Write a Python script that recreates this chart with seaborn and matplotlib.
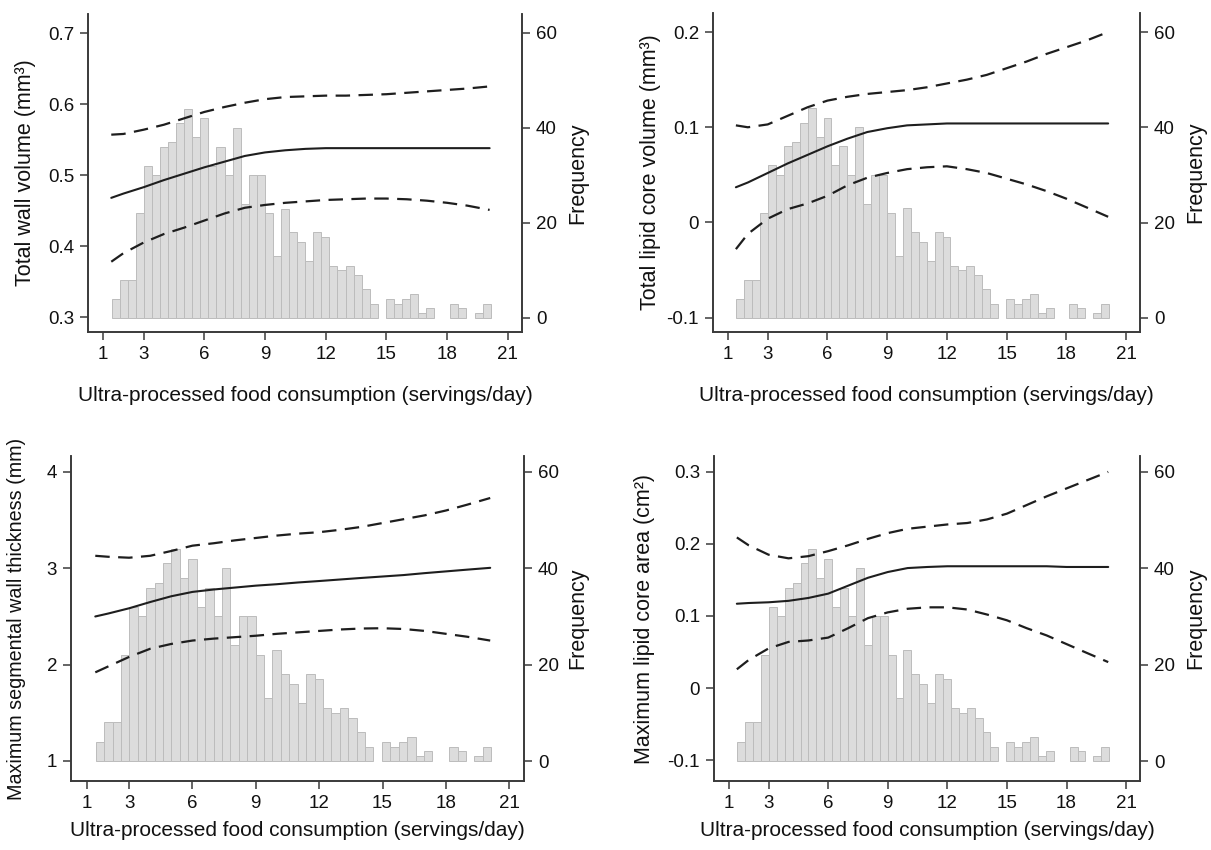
"""Ultra-processed food consumption vs carotid plaque measures (4 panels)"""

import matplotlib
matplotlib.use("Agg")
import matplotlib.pyplot as plt
import numpy as np
import pandas as pd
import seaborn as sns

sns.set_style("ticks")
plt.rcParams["font.family"] = ["Liberation Sans", "DejaVu Sans"]

W, H = 1211, 850

# histogram of servings/day (same sample in every panel)
HIST_LO, HIST_HI, N_BINS = 1.42, 20.15, 47
HIST_COUNTS = [4, 8, 8, 22, 32, 30, 36, 37, 41, 44, 38, 42, 32, 36, 30, 40,
               24, 30, 30, 22, 13, 23, 18, 16, 12, 18, 17, 11, 10, 11, 9, 6,
               3, 0, 4, 3, 4, 5, 1, 2, 0, 0, 3, 2, 0, 1, 3]

# x positions where the fitted curves were read
CURVE_X = [1.4, 2, 3, 4, 5, 6, 7, 8, 9, 10, 11, 12, 13, 14, 15, 16, 17, 18, 19, 20.1]

WALL_EST = [0.468, 0.474, 0.483, 0.493, 0.502, 0.511, 0.519, 0.527, 0.532, 0.535,
            0.537, 0.538, 0.538, 0.538, 0.538, 0.538, 0.538, 0.538, 0.538, 0.538]
WALL_HI = [0.557, 0.558, 0.564, 0.571, 0.580, 0.589, 0.596, 0.602, 0.607, 0.610,
           0.611, 0.612, 0.612, 0.613, 0.614, 0.616, 0.618, 0.620, 0.622, 0.625]
WALL_LO = [0.378, 0.390, 0.405, 0.417, 0.426, 0.436, 0.446, 0.454, 0.458, 0.461,
           0.463, 0.465, 0.466, 0.467, 0.467, 0.466, 0.464, 0.461, 0.457, 0.451]

LIPVOL_EST = [0.037, 0.042, 0.052, 0.062, 0.071, 0.080, 0.088, 0.095, 0.099, 0.102,
              0.103, 0.104, 0.104, 0.104, 0.104, 0.104, 0.104, 0.104, 0.104, 0.104]
LIPVOL_HI = [0.102, 0.100, 0.103, 0.112, 0.121, 0.128, 0.132, 0.135, 0.137, 0.139,
             0.142, 0.146, 0.150, 0.155, 0.162, 0.169, 0.177, 0.184, 0.191, 0.200]
LIPVOL_LO = [-0.028, -0.012, 0.004, 0.014, 0.020, 0.028, 0.039, 0.047, 0.052, 0.056,
             0.058, 0.059, 0.056, 0.052, 0.046, 0.040, 0.033, 0.025, 0.016, 0.006]

THICK_EST = [2.50, 2.53, 2.585, 2.65, 2.71, 2.755, 2.78, 2.80, 2.82, 2.835,
             2.853, 2.868, 2.884, 2.90, 2.915, 2.93, 2.95, 2.968, 2.986, 3.005]
THICK_HI = [3.13, 3.12, 3.11, 3.13, 3.18, 3.235, 3.26, 3.29, 3.315, 3.34,
            3.36, 3.375, 3.40, 3.43, 3.47, 3.51, 3.55, 3.60, 3.66, 3.73]
THICK_LO = [1.92, 1.98, 2.08, 2.165, 2.215, 2.25, 2.27, 2.285, 2.30, 2.32,
            2.335, 2.35, 2.365, 2.375, 2.378, 2.37, 2.35, 2.32, 2.29, 2.25]

LIPAREA_EST = [0.117, 0.118, 0.119, 0.121, 0.125, 0.131, 0.142, 0.153, 0.161, 0.1665,
               0.168, 0.169, 0.169, 0.169, 0.169, 0.169, 0.169, 0.168, 0.168, 0.168]
LIPAREA_HI = [0.209, 0.198, 0.185, 0.180, 0.183, 0.190, 0.198, 0.207, 0.215, 0.221,
              0.224, 0.227, 0.229, 0.234, 0.242, 0.254, 0.266, 0.277, 0.288, 0.300]
LIPAREA_LO = [0.026, 0.039, 0.055, 0.064, 0.066, 0.070, 0.083, 0.097, 0.105, 0.110,
              0.112, 0.112, 0.109, 0.102, 0.094, 0.083, 0.073, 0.061, 0.049, 0.036]

XLABEL = "Ultra-processed food consumption (servings/day)"
XTICKS = [1, 3, 6, 9, 12, 15, 18, 21]

PANELS = [
    # pixel box (left, right, top, bottom), ylim, yticks, labels, ylabel
    dict(box=(88, 522, 14, 332), ylim=(0.279, 0.727), fylim=(-2.95, 64),
         yticks=[0.3, 0.4, 0.5, 0.6, 0.7], ytl=["0.3", "0.4", "0.5", "0.6", "0.7"],
         ylabel="Total wall volume (mm³)", curves=(WALL_EST, WALL_LO, WALL_HI),
         ylab_x=36, ylab_fs=15.5, flab_x=567, xlab_y=386),
    dict(box=(713, 1140, 13, 332), ylim=(-0.115, 0.22), fylim=(-2.95, 64),
         yticks=[-0.1, 0, 0.1, 0.2], ytl=["-0.1", "0", "0.1", "0.2"],
         ylabel="Total lipid core volume (mm³)", curves=(LIPVOL_EST, LIPVOL_LO, LIPVOL_HI),
         ylab_x=661, ylab_fs=15.5, flab_x=1185, xlab_y=386),
    dict(box=(71, 524, 456, 781), ylim=(0.792, 4.166), fylim=(-4.15, 63.3),
         yticks=[1, 2, 3, 4], ytl=["1", "2", "3", "4"],
         ylabel="Maximum segmental wall thickness (mm)", curves=(THICK_EST, THICK_LO, THICK_HI),
         ylab_x=26, ylab_fs=14.2, flab_x=567, xlab_y=821),
    dict(box=(714, 1140, 456, 781), ylim=(-0.129, 0.322), fylim=(-4.15, 63.3),
         yticks=[-0.1, 0, 0.1, 0.2, 0.3], ytl=["-0.1", "0", "0.1", "0.2", "0.3"],
         ylabel="Maximum lipid core area (cm²)", curves=(LIPAREA_EST, LIPAREA_LO, LIPAREA_HI),
         ylab_x=655, ylab_fs=15.5, flab_x=1185, xlab_y=821),
]

LINE = "#1e1e1e"
AXC = "#3a3a3a"
TICK_FS = 13.5
LABEL_FS = 15


def style_axis(ax):
    for side in ("left", "right", "bottom"):
        ax.spines[side].set_color(AXC)
        ax.spines[side].set_linewidth(1.2)
    ax.spines["top"].set_visible(False)
    ax.tick_params(direction="out", length=6, width=1.1, color=AXC,
                   labelsize=TICK_FS, pad=4, labelcolor="#111111")


def draw_panel(fig, p):
    l, r, t, b = p["box"]
    ax = fig.add_axes([l / W, 1 - b / H, (r - l) / W, (b - t) / H])
    ax2 = ax.twinx()
    ax.set_zorder(ax2.get_zorder() + 1)
    ax.patch.set_visible(False)

    edges = np.linspace(HIST_LO, HIST_HI, N_BINS + 1)
    hist = pd.DataFrame({"servings": (edges[:-1] + edges[1:]) / 2,
                         "n": HIST_COUNTS})
    # list of edges: seaborn compares bins to "auto" when weights are given
    sns.histplot(data=hist, x="servings", weights="n", bins=edges.tolist(), ax=ax2,
                 color="#dcdcdc", edgecolor="#bcbcbc", linewidth=0.7, alpha=1)
    for patch in ax2.patches:
        if patch.get_height() == 0:
            patch.set_visible(False)

    est, lo, hi = p["curves"]
    sns.lineplot(x=CURVE_X, y=est, ax=ax, color=LINE, linewidth=1.5)
    for band in (lo, hi):
        sns.lineplot(x=CURVE_X, y=band, ax=ax, color=LINE, linewidth=1.6,
                     linestyle=(0, (6.5, 3.8)))

    ax.set_xlim(0.25, 21.7)
    ax.set_ylim(*p["ylim"])
    ax2.set_ylim(*p["fylim"])
    ax.set_xticks(XTICKS)
    ax.set_xticklabels([str(v) for v in XTICKS])
    ax.set_yticks(p["yticks"])
    ax.set_yticklabels(p["ytl"])
    ax2.set_yticks([0, 20, 40, 60])
    ax2.set_yticklabels(["0", "20", "40", "60"])

    style_axis(ax)
    style_axis(ax2)

    ax.set_xlabel(XLABEL, fontsize=LABEL_FS, color="#111111")
    ax.set_ylabel(p["ylabel"], fontsize=p["ylab_fs"], color="#111111")
    ax2.set_ylabel("Frequency", fontsize=LABEL_FS + 0.5, color="#111111")
    ax.xaxis.set_label_coords(0.5, (b - p["xlab_y"]) / (b - t))
    ax.yaxis.set_label_coords((p["ylab_x"] - l) / (r - l), 0.5)
    ax2.yaxis.set_label_coords((p["flab_x"] - l) / (r - l), 0.5)


def main():
    fig = plt.figure(figsize=(W / 100, H / 100), dpi=100)
    for p in PANELS:
        draw_panel(fig, p)
    fig.savefig("out.png", dpi=100)
    plt.close(fig)


if __name__ == "__main__":
    main()
